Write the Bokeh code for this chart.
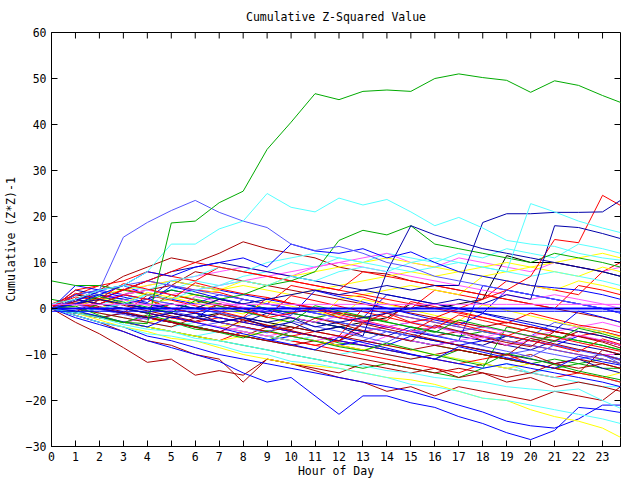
from bokeh.plotting import figure
from bokeh.models import Range1d, FixedTicker
from bokeh.embed import file_html
from bokeh.resources import INLINE

hours = [0, 1, 2, 3, 4, 5, 6, 7, 8, 9, 10, 11, 12, 13, 14, 15, 16, 17, 18, 19, 20, 21, 22, 23, 23.75]
x_ticks = list(range(0, 24))
y_ticks = [-30, -20, -10, 0, 10, 20, 30, 40, 50, 60]

RED = "#ff0000"; DRED = "#aa0000"; GREEN = "#00aa00"; BLUE = "#0000ff"; DBLUE = "#0000aa"
LBLUE = "#5555ff"; CYAN = "#55ffff"; MAG = "#ff55ff"; YEL = "#ffff00"; BLACK = "#000000"

# bulk series (hourly readings)
b01 = [1, 3, 5, 4, 6, 5, 4, 3.5, 2, 1, 5, 4, 3, 2.5, 1, 0, 4, 3, 2, 6, 5, 4, 3, 8, 10]
b02 = [0, 2, 4, 7, 9, 11, 10, 12, 14.5, 13, 12, 11, 9, 8, 7.5, 6, 5, 4, 3, 2, 1, 0, -1, -2, -3]
b03 = [2, 1, 0, -1, -2, -3, -4.5, -5, -6, -7, -5, -6, -7.5, -8, -9, -10, -11, -9, -10, -11, -12, -11, -12, -13, -13]
b04 = [0, 5, 4, 3, 2, 6, 5, 4, 3, 2, 1, 0, -1, -2, 3, 2, 1, 0, -1, 4, 3, 2, 1, 0, -1]
b05 = [0, 4, 3, 2, 1, 0, -1, -2, -3, -1, -2, -3, -4, -5, -6, -4, -5, -6, -7, -8, -9, -7, -8, -9, -10]
b06 = [0, 1, 0, -1, -2, -3, -4, -3, -4, -5, -6, -7, -8, -7, -5, -6, -7, -8, -9, -10, -9, -10, -11, -10, -12]
b07 = [0, 0, 1, 2, 3, 4, 6, 5, 7, 8, 10, 9, 11, 10, 12, 11, 10, 12, 11, 13, 12, 11, 14, 13, 12]
b08 = [0, 1, 2, 3, 5, 6, 7, 8, 9, 8, 7, 9, 10, 11, 12, 10, 9, 11, 10, 9, 8, 10, 9, 8, 9]
b09 = [0, 0, -1, -2, -3, -2, -3, -4, -3, -4, -2, -3, 2, 3, 4, 5, 4, 3, 7, 6, 5, 4, 6, 5, 4]
b10 = [0, 3, 2, 1, 0, -1, -2, -1, -2, -3, -4, -5, -4, -3, -2, 1, 0, 1, 2, 11.5, 10, 10, 9, 8, 7]
b11 = [0, -1, -2, -3, -4, -5, -6, -7, -5, -6, -7, -8, -9, -10, -11, -12, -13, -14, -12, -13, -14, -15, -14, -15, -16]
b12 = [0, -1, -2, -3, -2, -3, -4, -5, -6, -4, -5, -6, -7, -5, -4, -5, -6, -5, -7, -8, -6, -7, -5, -6, -7]
b13 = [0, 1, 2, 1, 0, 3, 2, 1, 0, -1, -2, -3, -4, -5, -6, -7, -8, -9, -10, -11, -12, -13, -12, -11, -12]
b14 = [0, -1, -2, -1, -2, -3, -4, -5, -6, -7, -6, -7, -8, -7, -8, -6, -7, -8, -7, -6, -7, -8, -6, -7, -8]
b15 = [0, -1, 0, 1, 2, 4, 3, 2, 1, 0, -1, -2, -3, -4, -5, -6, -7, -8, -9, -10, -11, -12, -11, -13, -14]
b16 = [0, 2, 1, 3, 2, 1, 0, -1, 2, 1, 0, -1, -2, -3, -4, -3, -4, -5, -4, -5, -6, -3, -4, -5, -6]
b17 = [0, -1, -2, -3, -4, -5, -6, -5, -6, -7, -8, -9, -10, -9, -10, -11, -10, -11, -12, -13, -14, -13, -14, -15, -16]
b18 = [0, -1, -2, -3, -2, -3, -4, -5, -4, -5, -6, -7, -6, -5, -4, -3, -2, -3, -4, -5, -6, -5, -4, -3, -4]
b19 = [0, 1, 0, 2, 1, 2, 3, 4, 5, 4, 3, 4, 5, 6, 7, 8, 7, 8, 9, 10, 9, 8, 7, 9, 8]
b20 = [0, 2, 1, 0, -1, -2, -3, -4, -5, -6, -7, -8, -7, -3, -4, -5, -4, -5, -6, -7, -8, -9, -10, -11, -12]
b21 = [0, 1, 0, -1, -2, -3, -4, -5, -6, -7, -8, -7, -8, -9, -10, -11, -10, -9, -10, -11, -10, -12, -11, -12, -13]
b22 = [0, -1, -2, -3, -4, -5, -6, -7, -8, -9, -10, -11, -12, -13, -12, -13, -14, -15, -13, -4, -5, -6, -7, -8, -9]
b23 = [0, 3, 4, 5, 3, 2, 1, 3, 2, 1, 0, -1, -2, -3, -4, -5, -6, -7, 5, 4, 3, 2, 1, 0, -1]
b24 = [0, 2, 3, 1, 0, -1, -2, 1, 0, -1, -2, -3, -4, -5, -6, -7, -8, -7, -8, -6, -7, -8, -9, -10, -11]
b25 = [0, 1, 2, 3, 2, 1, 0, -1, -2, 0, -1, -2, -3, -4, -5, -6, -4, -5, -6, -7, -8, -9, -10, -11, -12]
b26 = [0, 0, -1, -2, -3, -4, -3, -4, -5, -6, -7, -6, -7, -8, -9, -10, -11, -12, -13, -12, -14, -15, -16, -17, -17]
b27 = [0, 0, 1, 0, -1, -2, -3, -4, -5, -6, -5, -6, -7, -8, -6, -7, -8, -7, -6, -8, -7, -8, -9, -10, -10]
b28 = [0, -1, -2, -3, -4, -5, -6, -7, -6, -5, -6, -7, -8, -9, -8, -9, -10, -11, -12, -13, -12, -13, -14, -15, -14]
b29 = [0, 4, 5, 6, 8, 7, 6, 9, 8, 7, 6, 5, 4, 3, 2, 1, 0, -1, -2, -3, -4, -5, -6, -7, -8]
b30 = [0, -1, -2, -1, -2, -3, -4, -5, -6, -7, -8, -9, -10, -11, -12, -13, -14, -13, -14, -15, -14, -12, -13, -12, -13]
b31 = [0, 1, 0, -1, -2, -1, -2, -3, -4, -5, -6, -5, -6, 0, -1, -2, -3, -4, -5, -6, -4, -5, -6, -5, -6]
b32 = [6, 5, 5, 4, 3, 4, 3, 2, 1, 0, -1, -2, -1, -2, -3, -4, -5, -6, -5, -6, -7, -6, -7, -8, -9]
b33 = [0, 2, 1, 3, 4, 5, 8, 7, 6, 5, 4, 3, 2, 1, 0, -1, -2, -3, -4, -3, -4, -5, -6, -7, -8]
b34 = [0, 1, 2, 3, 4, 3, 4, 5, 6, 7, 8, 9, 10, 9, 8, 7, 6, 5, 4, 3, 2, 3, 2, 1, 0]
b35 = [0, 2, 3, 4, 5, 6, 5, 4, 6, 5, 7, 8, 9, 10, 11, 10, 9, 8, 7, 8, 9, 10, 11, 12, 11]
b36 = [0, -1, 1, 0, -1, -2, -3, -2, -3, -4, -5, -6, -7, -8, -9, -10, -11, -12, -11, -10, -12, -13, -14, -15, -16]
b37 = [0, 2, 3, 2, 1, 0, -1, -2, -3, -4, -5, -6, -7, -8, -9, -10, -11, -12, -13, -12, -13, -14, -15, -16, -17]
b38 = [0, 1, 2, 4, 6, 8, 9, 10, 9, 8, 7, 6, 5, 4, 3, 2, 1, 0, -1, -2, -3, -4, -5, -6, -7]
b39 = [0, 3, 4, 5, 6, 5, 4, 3, 2, 1, 0, -1, -2, -3, -1, -2, -3, -4, -5, -6, -7, -8, -9, -10, -11]
b40 = [0, 1, 3, 5, 4, 6, 7, 9, 8, 10, 11, 12, 11, 10, 9, 8, 9, 10, 9, 8, 7, 8, 7, 6, 5]
b41 = [0, 1, 2, 4, 6, 8, 10, 9, 8, 7, 6, 5, 4, 8, 7, 6, 5, 4, 3, 2, 1, 0, 5, 4, 3]
b42 = [0, 0, -1, -2, -3, -4, -2, -3, -4, -5, -4, -5, -6, -7, -8, -9, -8, -9, -10, -11, -12, -13, -14, -9, -10]
b43 = [0.5, 2.5, 1.8, 4.2, 3.1, 2.0, 5.6, 4.3, 3.2, 2.4, 1.1, 0.2, -0.9, -1.8, -2.6, 1.5, 0.4, -0.7, -1.9, -3.2, -1.0, -2.3, -3.6, -4.4, -5.3]
b44 = [0, -0.8, 1.9, 0.7, -0.5, -1.6, -2.8, -1.2, -2.5, -3.7, -4.6, -2.1, -3.3, -4.8, -5.9, -7.1, -3.6, -4.9, -6.2, -7.4, -8.3, -5.0, -6.1, -7.3, -8.6]
b45 = [0, 1.6, 3.7, 2.5, 1.3, 4.8, 3.6, 2.2, 1.0, -0.3, -1.5, 3.9, 2.6, 1.4, 0.1, -1.2, -2.5, -3.6, -1.1, -2.4, -3.5, -4.8, -0.6, -1.9, -3.0]
b46 = [0, -0.6, -1.8, -3.1, -1.4, -2.7, -3.9, -5.2, -6.4, -4.8, -6.0, -7.1, -8.3, -9.2, -7.5, -8.8, -10.1, -11.3, -12.4, -9.8, -10.9, -12.2, -13.6, -14.7, -15.5]
b47 = [0, 1.2, 0.1, -1.0, 2.9, 1.8, 0.6, -0.6, -1.9, 2.3, 1.1, -0.1, -1.3, -2.6, -3.8, -5.0, -2.2, -3.4, -4.7, -5.8, -7.0, -8.1, -9.4, -6.6, -7.8]
b48 = [0, 0.8, -0.3, 1.9, 0.7, -0.5, 2.6, 1.5, 0.3, -0.8, -1.9, -3.0, -1.6, -2.7, -3.9, -5.1, -4.0, -5.3, -6.4, -4.9, -6.1, -7.2, -5.8, -6.9, -8.0]
b49 = [0, 1.5, 0.4, -0.7, -1.8, -2.9, -4.1, -5.2, -2.4, -3.6, -4.8, -6.0, -7.1, -3.3, -4.5, -5.6, -6.8, -8.0, -9.1, -10.2, -6.5, -7.7, -8.9, -10.0, -11.2]
b50 = [0, 0.4, 2.2, 1.1, 3.5, 2.4, 1.2, 0.0, -1.2, 1.6, 0.5, -0.6, -1.8, 2.0, 0.9, -0.3, -1.5, -2.7, 0.8, -0.4, -1.6, -2.8, -4.0, -5.1, -6.2]
b51 = [0, -0.5, -1.7, -2.9, -4.0, -1.8, -3.0, -4.2, -5.5, -6.7, -7.8, -9.0, -6.2, -7.4, -8.6, -9.9, -11.0, -8.3, -9.5, -10.7, -11.9, -13.0, -10.4, -11.6, -12.3]
b52 = [0, 3.3, 2.1, 5.4, 4.2, 3.0, 1.8, 0.6, -0.6, -1.7, 2.8, 1.7, 0.5, -0.7, -1.9, -3.1, -4.3, -1.4, -2.6, -3.8, -5.0, -6.2, -7.4, -8.5, -9.3]
b53 = [0, 0.9, -0.2, -1.3, -2.4, -0.6, -1.8, -3.0, -4.1, -5.3, -2.7, -3.9, -5.0, -6.2, -7.4, -4.6, -5.8, -7.0, -8.2, -9.3, -10.5, -7.9, -9.1, -10.2, -11.3]
b54 = [0, 1.0, 2.6, 1.4, 0.3, -0.9, 1.7, 0.5, -0.7, -1.9, -3.0, 0.6, -0.5, -1.7, -2.9, -4.1, -5.2, -2.5, -3.7, -4.9, -6.0, -7.2, -4.3, -5.5, -6.6]

bulk = [b01, b02, b03, b04, b05, b06, b07, b08, b09, b10, b11, b12, b13, b14, b15, b16, b17, b18, b19, b20, b21,
        b22, b23, b24, b25, b26, b27, b28, b29, b30, b31, b32, b33, b34, b35, b36, b37, b38, b39, b40, b41, b42,
        b43, b44, b45, b46, b47, b48, b49, b50, b51, b52, b53, b54]
bulk_colors = [RED, DRED, GREEN, BLUE, DBLUE, LBLUE, CYAN, MAG, YEL, BLACK,
               RED, DRED, GREEN, BLUE, DBLUE, LBLUE, CYAN, MAG, YEL, RED,
               DRED, GREEN, BLUE, DBLUE, LBLUE, CYAN, MAG, YEL, RED, DRED,
               RED, GREEN, DRED, MAG, YEL, RED, BLUE, DBLUE, LBLUE, CYAN, RED, DRED,
               RED, DRED, BLUE, GREEN, RED, MAG, DRED, YEL, BLUE, RED, LBLUE, GREEN]

# outlier series
green_big = [0, 0.5, -1.5, -3, -3.3, 18.6, 19, 23, 25.5, 34.6, 40.5, 46.7, 45.4, 47.2, 47.5, 47.2, 50, 51, 50.2, 49.6, 47, 49.5, 48.5, 46.3, 44.8]
cyan_top = [1, 2, 4, 5, 8, 14, 14, 17.3, 19, 25, 22, 21, 24, 22.5, 23.7, 21, 18, 19.8, 17.5, 14.8, 14, 13.5, 12, 11, 10.5]
lblue_top = [0, 2, 4, 15.5, 18.7, 21.3, 23.5, 20.9, 19, 17.6, 14, 12.6, 13.5, 12, 10, 9, 7, 6, 5, 4, 3, 2, 1, 0, -1]
cyan_jump = [0, -1, 0, 1, 3, 2, 4, 5, 6, 5, 7, 6, 8, 9, 8, 10, 11, 10, 9, 8, 22.8, 21, 19, 17.5, 16.5]
blue_mid = [0, 1, 3, 5, 8, 7, 9, 10, 11, 9, 14, 12.5, 12, 13, 11, 12.3, 10, 8, 7, 6, 5, 4.5, 4, 3, 2]
dblue_a = [0, 2, 1, 0, -1, -2, -1, -3, -2, -4, -3, -5, -4, -6, 8, 18, 16, 14.5, 13, 12, 11, 10, 9, 8, 7]
dblue_b = [0, 1, 2, 1, 0, 1, 0, 2, 1, 2, 3, 4, 3, 4, 5, 4, 5, 5, 18.7, 20.6, 20.6, 20.9, 20.9, 21, 23.5]
dblue_c = [0, -1, 0, -1, -2, -1, -2, -3, -2, -3, -2, -4, -3, -2, -1, 0, 1, 2, 1, 3, 2, 18, 17.6, 16.3, 15.2]
red_right = [0, 2, 1, 3, 2, 0, -1, 1, 0, -2, -1, 0, -2, -3, -1, -3, -2, 0, 2, 4, 7, 15, 14.3, 24.6, 22.4]
green_two = [0, -1, 1, 0, -1, 1, 0, 2, 3, 5, 6, 8, 14.8, 17, 16, 18, 14, 13, 12, 11, 10, 12, 11, 10, 9]
dred_low1 = [0, -3, -5.5, -8.5, -11.7, -11, -14.5, -13.5, -14.5, -11, -12, -13, -14, -12, -13, -14, -13, -15, -14, -16, -15, -17, -16, -17, -18]
dred_low2 = [0, -1.5, -3, -5, -7, -8, -10, -11, -16, -11, -12, -13.5, -15, -16, -18, -17, -19, -17, -18, -19, -20, -18, -19, -20, -17]
blue_low1 = [0, -2, -3.5, -5, -7, -8.5, -10, -11.5, -14, -16, -15, -19, -23, -19, -19, -20.5, -21.5, -23.5, -25, -27, -28.5, -26.5, -21.5, -22, -22.6]
blue_low2 = [0, -1.5, -3, -4, -6, -7, -8.5, -10, -11, -12, -13, -14, -15, -16, -17, -18, -19.5, -21, -22.5, -24.5, -25.5, -26, -24, -21, -21]
yel_low = [0, -1, -2.5, -4, -5, -6.5, -7, -8.5, -10, -11, -12, -12.5, -13, -14, -15, -15.5, -16.5, -18, -19.5, -20, -22, -23.5, -24.5, -26, -28]
cyan_low1 = [0, -1, -2, -3.5, -4.5, -5, -6.5, -7, -8, -9, -10, -11, -12, -12.5, -13.5, -14, -15, -15.5, -16, -17, -17.5, -18, -17.5, -20, -21.7]
cyan_low2 = [0, -1.5, -3, -4, -5.5, -6, -7, -8, -9.5, -10, -11.5, -12, -13, -14, -15, -16.5, -17, -18, -19.5, -20, -21, -22, -23, -24, -25]

outliers = [dred_low1, dred_low2, blue_low1, blue_low2, yel_low, cyan_low1, cyan_low2,
            green_two, red_right, dblue_a, dblue_b, dblue_c, blue_mid, cyan_jump, lblue_top, cyan_top, green_big]
outlier_colors = [DRED, DRED, BLUE, BLUE, YEL, CYAN, CYAN,
                  GREEN, RED, DBLUE, DBLUE, DBLUE, BLUE, CYAN, LBLUE, CYAN, GREEN]

flat_magenta = [0.9] * len(hours)
flat_dblue = [-0.6] * len(hours)
flat_blue = [0] * len(hours)

FONT = "DejaVu Sans Mono"
X0, X1 = 0, 23.75
Y0, Y1 = -30, 60

p = figure(width=640, height=480, output_backend="svg", toolbar_location=None,
           x_range=Range1d(X0, X1), y_range=Range1d(Y0, Y1),
           min_border_left=51, min_border_right=20, min_border_top=32, min_border_bottom=34,
           title="Cumulative Z-Squared Value")
p.title.align = "center"
p.title.vertical_align = "top"
p.title.text_font = FONT
p.title.text_font_style = "normal"
p.title.text_font_size = "11.5px"
p.title.text_color = "black"
p.title.standoff = 14
p.xgrid.visible = False
p.ygrid.visible = False
p.outline_line_color = "black"
p.background_fill_color = "white"
p.border_fill_color = "white"

for ys, c in zip(bulk, bulk_colors):
    p.line(hours, ys, line_color=c, line_width=1)
for ys, c in zip(outliers, outlier_colors):
    p.line(hours, ys, line_color=c, line_width=1)
p.line(hours, flat_magenta, line_color=MAG, line_width=1)
p.line(hours, flat_dblue, line_color=BLUE, line_width=1)
p.line(hours, flat_blue, line_color=BLUE, line_width=2)

for ax in (p.xaxis[0], p.yaxis[0]):
    ax.major_tick_in = 6
    ax.major_tick_out = 0
    ax.minor_tick_in = 0
    ax.minor_tick_out = 0
    ax.axis_line_color = "black"
    ax.major_tick_line_color = "black"
    ax.major_label_text_font = FONT
    ax.major_label_text_font_size = "11.5px"
    ax.major_label_text_color = "black"
    ax.axis_label_text_font = FONT
    ax.axis_label_text_font_size = "11.5px"
    ax.axis_label_text_font_style = "normal"
    ax.axis_label_text_color = "black"

p.xaxis[0].ticker = FixedTicker(ticks=x_ticks)
p.yaxis[0].ticker = FixedTicker(ticks=y_ticks)
p.xaxis[0].axis_label = "Hour of Day"
p.yaxis[0].axis_label = "Cumulative (Z*Z)-1"
p.xaxis[0].major_label_standoff = 5
p.yaxis[0].major_label_standoff = 5
p.xaxis[0].axis_label_standoff = 0
p.yaxis[0].axis_label_standoff = 5

# inward tick marks on the top and right frame edges (at the axis tick values)
tick_dx = 6 / 24.0   # 6 px expressed in hours
tick_dy = 6 / 4.6    # 6 px expressed in y units
p.segment(x0=x_ticks, y0=[Y1] * len(x_ticks), x1=x_ticks, y1=[Y1 - tick_dy] * len(x_ticks),
          line_color="black", line_width=1)
p.segment(x0=[X1] * len(y_ticks), y0=y_ticks, x1=[X1 - tick_dx] * len(y_ticks), y1=y_ticks,
          line_color="black", line_width=1)

open("out.html", "w").write(file_html(p, INLINE))
